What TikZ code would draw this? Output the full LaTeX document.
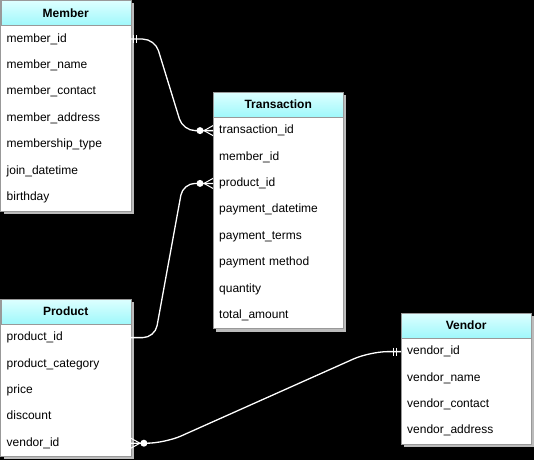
\documentclass[tikz,border=0pt]{standalone}
\usepackage{fontspec}
\setmainfont{Liberation Sans}
\usetikzlibrary{positioning,backgrounds}

\definecolor{headtop}{HTML}{DDFFFF}
\definecolor{headbot}{HTML}{9FF8FB}
\definecolor{framegray}{HTML}{999999}
\definecolor{shadowgray}{HTML}{BBBBBB}

\tikzset{
  tabhead/.style={draw=framegray, top color=headtop, bottom color=headbot,
    minimum width=130pt, minimum height=25pt, inner sep=0pt,
    font=\fontsize{12}{14}\selectfont\bfseries},
  field/.style={minimum width=130pt, minimum height=26pt,
    text width=118pt, inner xsep=6pt, inner ysep=0pt, align=left,
    text height=9pt, text depth=3pt, font=\fontsize{12}{14}\selectfont},
  rel/.style={draw=white, line width=1.3pt, rounded corners=12pt},
  relmark/.style={draw=white, line width=1pt}
}

\begin{document}
\begin{tikzpicture}[x=1pt,y=-1pt]
\useasboundingbox (0,0) rectangle (534,460);
\begin{scope}[on background layer]
\fill[black] (0,0) rectangle (534,460);
\end{scope}

% Member
\node [tabhead, anchor=north west] (member) at (0.5,0.5) {Member};
\node [field, below=0pt of member] (memberid) {member\_id};
\node [field, below=0pt of memberid] (membername) {member\_name};
\node [field, below=0pt of membername] (membercontact) {member\_contact};
\node [field, below=0pt of membercontact] (memberaddress) {member\_address};
\node [field, below=0pt of memberaddress] (membertype) {membership\_type};
\node [field, below=0pt of membertype] (memberjoin) {join\_datetime};
\node [field, below=0pt of memberjoin] (memberbirth) {birthday};
\draw [framegray] (member.north west) rectangle (memberbirth.south east);

% Transaction
\node [tabhead, anchor=north west] (trans) at (213,92) {Transaction};
\node [field, below=0pt of trans] (transid) {transaction\_id};
\node [field, below=0pt of transid] (transmember) {member\_id};
\node [field, below=0pt of transmember] (transproduct) {product\_id};
\node [field, below=0pt of transproduct] (transdate) {payment\_datetime};
\node [field, below=0pt of transdate] (transterms) {payment\_terms};
\node [field, below=0pt of transterms] (transmethod) {payment method};
\node [field, below=0pt of transmethod] (transqty) {quantity};
\node [field, below=0pt of transqty] (transamount) {total\_amount};
\draw [framegray] (trans.north west) rectangle (transamount.south east);

% Product
\node [tabhead, anchor=north west] (product) at (0.5,299) {Product};
\node [field, below=0pt of product] (productid) {product\_id};
\node [field, below=0pt of productid] (productcat) {product\_category};
\node [field, below=0pt of productcat] (productprice) {price};
\node [field, below=0pt of productprice] (productdisc) {discount};
\node [field, below=0pt of productdisc] (productvendor) {vendor\_id};
\draw [framegray] (product.north west) rectangle (productvendor.south east);

% Vendor
\node [tabhead, anchor=north west] (vendor) at (401,313) {Vendor};
\node [field, below=0pt of vendor] (vendorid) {vendor\_id};
\node [field, below=0pt of vendorid] (vendorname) {vendor\_name};
\node [field, below=0pt of vendorname] (vendorcontact) {vendor\_contact};
\node [field, below=0pt of vendorcontact] (vendoraddress) {vendor\_address};
\draw [framegray] (vendor.north west) rectangle (vendoraddress.south east);

% shadows and white table bodies
\begin{scope}[on background layer]
\fill [shadowgray] ([shift={(3pt,-3pt)}]member.north west) rectangle ([shift={(3pt,-3pt)}]memberbirth.south east);
\fill [shadowgray] ([shift={(3pt,-3pt)}]trans.north west) rectangle ([shift={(3pt,-3pt)}]transamount.south east);
\fill [shadowgray] ([shift={(3pt,-3pt)}]product.north west) rectangle ([shift={(3pt,-3pt)}]productvendor.south east);
\fill [shadowgray] ([shift={(3pt,-3pt)}]vendor.north west) rectangle ([shift={(3pt,-3pt)}]vendoraddress.south east);
\fill [white] (memberid.north west) rectangle (memberbirth.south east);
\fill [white] (transid.north west) rectangle (transamount.south east);
\fill [white] (productid.north west) rectangle (productvendor.south east);
\fill [white] (vendorid.north west) rectangle (vendoraddress.south east);
\end{scope}

% relations
\draw [rel] (memberid.east) -- ++(24,0) -- ([xshift=-30pt]transid.west) -- (transid.west);
\draw [rel] (productid.east) -- ++(24,0) -- ([xshift=-30pt]transproduct.west) -- (transproduct.west);
\draw [rel, rounded corners=18pt] (productvendor.east) -- ++(34,0) -- ([xshift=-31pt]vendorid.west) -- (vendorid.west);

% one and only one
\draw [relmark] ([xshift=3pt,yshift=4pt]memberid.east) -- ([xshift=3pt,yshift=-4pt]memberid.east);
\draw [relmark] ([xshift=6pt,yshift=4pt]memberid.east) -- ([xshift=6pt,yshift=-4pt]memberid.east);
\draw [relmark] ([xshift=-5pt,yshift=4pt]vendorid.west) -- ([xshift=-5pt,yshift=-4pt]vendorid.west);
\draw [relmark] ([xshift=-8pt,yshift=4pt]vendorid.west) -- ([xshift=-8pt,yshift=-4pt]vendorid.west);

% zero or many
\fill [white] ([xshift=-13pt]transid.west) circle (3.5pt);
\draw [relmark] ([yshift=5pt]transid.west) -- ([xshift=-9pt]transid.west) -- ([yshift=-5pt]transid.west);
\fill [white] ([xshift=-13pt]transproduct.west) circle (3.5pt);
\draw [relmark] ([yshift=5pt]transproduct.west) -- ([xshift=-9pt]transproduct.west) -- ([yshift=-5pt]transproduct.west);
\fill [white] ([xshift=13pt]productvendor.east) circle (3.5pt);
\draw [relmark] ([yshift=5pt]productvendor.east) -- ([xshift=9pt]productvendor.east) -- ([yshift=-5pt]productvendor.east);
\end{tikzpicture}
\end{document}
